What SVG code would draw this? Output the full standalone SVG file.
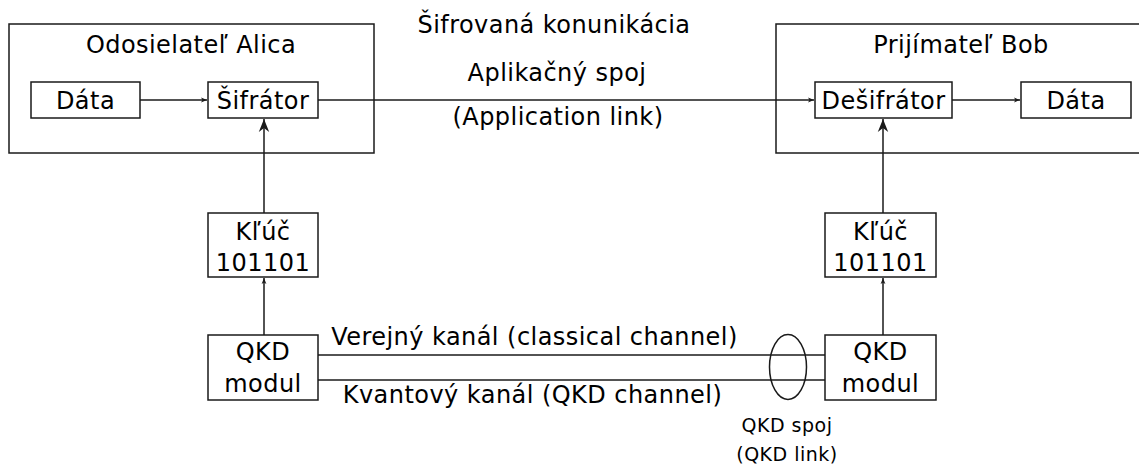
<svg xmlns="http://www.w3.org/2000/svg" width="1139" height="468" viewBox="0 0 1139 468">
<style>
.box{fill:#fff;stroke:#1a1a1a;stroke-width:1.5}
.ln{fill:none;stroke:#1a1a1a;stroke-width:1.5}
text{font-family:"DejaVu Sans",Verdana,sans-serif;font-size:24px;letter-spacing:0.45px;fill:#000;text-anchor:middle}
.sm{font-size:19px;letter-spacing:0.5px}
</style>
<defs>
<marker id="a" viewBox="0 0 10 10" refX="10" refY="5" markerWidth="7" markerHeight="6" markerUnits="userSpaceOnUse" orient="auto"><path d="M0,1 L10,5 L0,9 L2.5,5 z" fill="#1a1a1a"/></marker>
<marker id="b" viewBox="0 0 10 10" refX="10" refY="5" markerWidth="22" markerHeight="13" markerUnits="userSpaceOnUse" orient="auto"><path d="M0,1 L10,5 L0,9 L3,5 z" fill="#1a1a1a"/></marker>
</defs>
<g id="alice"><rect class="box" x="9" y="24" width="365" height="129"/><text x="191" y="53">Odosielateľ Alica</text></g>
<g id="bob"><rect class="box" x="776" y="24" width="380" height="129"/><text x="961" y="53">Prijímateľ Bob</text></g>
<g id="data-a"><rect class="box" x="31" y="82" width="109" height="36"/><text x="85.5" y="109">Dáta</text></g>
<g id="sifrator"><rect class="box" x="208" y="82" width="110" height="36"/><text x="263" y="109">Šifrátor</text></g>
<g id="desifrator"><rect class="box" x="815" y="82" width="137" height="36"/><text x="883.5" y="109">Dešifrátor</text></g>
<g id="data-b"><rect class="box" x="1021" y="82" width="110" height="36"/><text x="1076" y="109">Dáta</text></g>
<g id="key-a"><rect class="box" x="208" y="213" width="110" height="64"/><text x="263" y="240">Kľúč</text><text x="263" y="271">101101</text></g>
<g id="key-b"><rect class="box" x="825" y="213" width="111" height="64"/><text x="880.5" y="240">Kľúč</text><text x="880.5" y="271">101101</text></g>
<g id="qkd-a"><rect class="box" x="208" y="335" width="110" height="65"/><text x="263" y="360">QKD</text><text x="263" y="392">modul</text></g>
<g id="qkd-b"><rect class="box" x="825" y="335" width="111" height="65"/><text x="880.5" y="360">QKD</text><text x="880.5" y="392">modul</text></g>
<g id="labels">
<text x="554" y="33">Šifrovaná konunikácia</text>
<text x="557" y="81">Aplikačný spoj</text>
<text x="558" y="125">(Application link)</text>
<text x="534.5" y="345">Verejný kanál (classical channel)</text>
<text x="532.5" y="403">Kvantový kanál (QKD channel)</text>
<text class="sm" x="787" y="432">QKD spoj</text>
<text class="sm" x="787" y="461">(QKD link)</text>
</g>
<g id="connectors">
<line class="ln" x1="140" y1="100" x2="207" y2="100" marker-end="url(#a)"/>
<line class="ln" x1="318" y1="100" x2="814" y2="100" marker-end="url(#a)"/>
<line class="ln" x1="952" y1="100" x2="1020" y2="100" marker-end="url(#a)"/>
<line class="ln" x1="264" y1="213" x2="264" y2="119" marker-end="url(#b)"/>
<line class="ln" x1="883" y1="213" x2="883" y2="119" marker-end="url(#b)"/>
<line class="ln" x1="264" y1="335" x2="264" y2="278" marker-end="url(#a)"/>
<line class="ln" x1="883" y1="335" x2="883" y2="278" marker-end="url(#a)"/>
<line class="ln" x1="318" y1="355" x2="825" y2="355"/>
<line class="ln" x1="318" y1="380" x2="825" y2="380"/>
<ellipse class="ln" cx="788" cy="367" rx="18.5" ry="32.5"/>
</g>
</svg>
